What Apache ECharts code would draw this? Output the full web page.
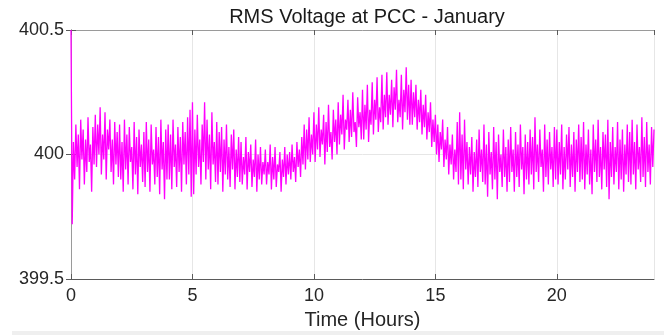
<!DOCTYPE html>
<html>
<head>
<meta charset="utf-8">
<script src="https://cdn.jsdelivr.net/npm/echarts@6/dist/echarts.min.js"></script>
<style>
html,body{margin:0;padding:0;background:#fff;}
#c{width:667px;height:335px;}
</style>
</head>
<body>
<div id="c"></div>
<script>
// Sampling step (hours) of the voltage record
var stepHours = 0.05;
// RMS voltage readings, one row per hour (20 samples each), plus final sample
var voltage = [
400.50,399.72,400.05,399.90,400.12,399.95,400.08,399.86,400.14,399.98,400.10,399.88,400.06,399.93,400.15,399.97,400.04,399.85,400.11,399.96,
400.16,399.95,400.12,400.00,400.19,399.92,400.08,399.98,400.17,399.90,400.10,400.02,400.14,399.93,400.06,399.88,400.13,399.96,400.09,399.91,
400.12,399.90,400.05,399.85,400.14,399.94,400.08,399.88,400.11,399.97,400.03,399.86,400.13,399.92,400.07,399.84,400.10,399.95,400.04,399.89,
400.09,399.87,400.13,399.93,400.06,399.85,400.12,399.96,400.02,399.88,400.11,399.91,400.07,399.84,400.14,399.94,400.05,399.82,400.10,399.90,
400.12,399.90,400.08,399.86,400.14,399.95,400.04,399.87,400.11,399.93,400.07,399.85,400.13,399.96,400.09,399.88,400.15,399.92,400.18,399.83,
400.21,399.84,400.10,399.92,400.16,399.95,400.06,399.88,400.12,399.97,400.21,399.90,400.14,399.94,400.08,399.86,400.17,399.96,400.05,399.89,
400.13,399.88,400.09,399.93,400.11,399.85,400.06,399.92,400.12,399.90,400.03,399.87,400.08,399.94,400.10,399.86,400.02,399.91,400.07,399.89,
400.05,399.88,399.99,399.92,400.07,399.86,400.01,399.93,400.04,399.87,399.98,399.91,400.06,399.85,400.00,399.90,400.03,399.88,399.97,399.92,
400.02,399.88,399.97,399.92,400.04,399.86,399.99,399.90,400.03,399.87,399.96,399.93,400.01,399.85,399.98,399.91,400.03,399.88,400.00,399.92,
400.01,399.90,400.04,399.93,399.99,399.89,400.05,399.95,400.02,399.91,400.07,399.96,400.12,399.94,400.10,399.98,400.15,399.97,400.08,400.00,
400.17,399.97,400.12,400.02,400.19,399.99,400.10,400.04,400.16,399.96,400.13,400.01,400.20,400.03,400.09,399.98,400.18,400.05,400.14,400.00,
400.21,400.04,400.16,400.08,400.24,400.02,400.14,400.10,400.22,400.05,400.18,400.07,400.25,400.09,400.13,400.03,400.23,400.11,400.17,400.06,
400.26,400.06,400.20,400.10,400.28,400.05,400.18,400.12,400.29,400.08,400.22,400.14,400.31,400.09,400.19,400.13,400.32,400.10,400.24,400.15,
400.33,400.12,400.24,400.16,400.30,400.11,400.27,400.18,400.34,400.13,400.22,400.15,400.32,400.10,400.26,400.17,400.35,400.14,400.28,400.12,
400.30,400.12,400.25,400.15,400.28,400.10,400.22,400.13,400.26,400.08,400.20,400.11,400.24,400.06,400.17,400.09,400.21,400.03,400.14,400.05,
400.16,400.00,400.12,399.97,400.09,400.02,400.14,399.95,400.06,399.98,400.11,399.92,400.04,399.96,400.08,399.90,400.02,399.93,400.13,399.88,
400.17,399.90,400.08,399.86,400.14,399.94,400.05,399.88,400.03,399.92,400.07,399.85,400.01,399.91,400.06,399.87,400.10,399.93,400.02,399.89,
400.12,399.88,400.04,399.83,400.09,399.92,400.01,399.86,400.11,399.90,400.05,399.82,400.08,399.93,400.00,399.87,400.10,399.91,400.03,399.85,
400.06,399.89,400.11,399.93,400.02,399.85,400.09,399.91,400.04,399.87,400.12,399.94,400.03,399.84,400.08,399.90,400.05,399.88,400.10,399.92,
400.07,399.86,400.15,399.93,400.04,399.89,400.10,399.95,400.02,399.85,400.12,399.91,400.06,399.88,400.09,399.94,400.03,399.87,400.11,399.90,
400.10,399.88,400.05,399.92,400.12,399.86,400.03,399.90,400.08,399.94,400.11,399.87,400.04,399.91,400.09,399.85,400.06,399.93,400.12,399.89,
400.07,399.90,400.13,399.86,400.04,399.92,400.10,399.88,400.02,399.84,400.12,399.93,400.06,399.89,400.14,399.91,400.03,399.86,400.09,399.94,
400.08,399.87,400.14,399.82,400.05,399.91,400.11,399.88,400.03,399.93,400.13,399.86,400.06,399.90,400.10,399.85,400.04,399.92,400.12,399.89,
400.09,399.88,400.14,399.92,400.05,399.86,400.12,399.94,400.03,399.89,400.15,399.91,400.07,399.87,400.13,399.93,400.04,399.88,400.11,399.95,
400.10
];
var xTicks = [0, 5, 10, 15, 20];
var yTicks = [399.5, 400, 400.5];
var titleText = 'RMS Voltage at PCC - January';
var xLabel = 'Time (Hours)';

var points = voltage.map(function (v, i) { return [i * stepHours, v]; });

var font = '"Liberation Sans", Arial, Helvetica, sans-serif';
var chart = echarts.init(document.getElementById('c'), null, {renderer: 'canvas'});
chart.setOption({
  animation: false,
  backgroundColor: '#ffffff',
  title: {
    text: titleText, left: 362, top: 2, textAlign: 'center',
    textStyle: {fontFamily: font, fontSize: 20, fontWeight: 'normal', color: '#1a1a1a'}
  },
  grid: {left: 71, right: 13, top: 30, bottom: 55, containLabel: false},
  graphic: [{
    type: 'rect', shape: {x: 12, y: 331, width: 652, height: 4},
    style: {fill: '#efefef'}, silent: true
  }],
  xAxis: [{
    type: 'value', min: 0, max: 24, interval: 5,
    name: xLabel, nameLocation: 'middle', nameGap: 31,
    nameTextStyle: {fontFamily: font, fontSize: 20, color: '#262626'},
    axisLine: {lineStyle: {color: '#5a5a5a', width: 1}},
    axisTick: {inside: true, length: 5, lineStyle: {color: '#5a5a5a'}},
    axisLabel: {fontFamily: font, fontSize: 18, color: '#262626', margin: 8,
      showMaxLabel: false,
      formatter: function (v) { return xTicks.indexOf(v) >= 0 ? String(v) : ''; }},
    splitLine: {show: true, lineStyle: {color: '#e6e6e6', width: 1}}
  }, {
    type: 'value', min: 0, max: 24, interval: 5, position: 'top',
    axisLine: {show: true, lineStyle: {color: '#9a9a9a', width: 1}},
    axisTick: {inside: true, length: 5, lineStyle: {color: '#5a5a5a'}},
    axisLabel: {show: false}, splitLine: {show: false}
  }],
  yAxis: [{
    type: 'value', min: 399.5, max: 400.5, interval: 0.5,
    axisLine: {show: true, lineStyle: {color: '#5a5a5a', width: 1}},
    axisTick: {inside: true, length: 5, lineStyle: {color: '#5a5a5a'}},
    axisLabel: {fontFamily: font, fontSize: 18, color: '#262626', margin: 7,
      padding: [7, 0, 0, 0],
      formatter: function (v) { return yTicks.indexOf(v) >= 0 ? String(v) : ''; }},
    splitLine: {show: true, lineStyle: {color: '#e6e6e6', width: 1}}
  }, {
    type: 'value', min: 399.5, max: 400.5, interval: 0.5, position: 'right',
    axisLine: {show: true, lineStyle: {color: '#9a9a9a', width: 1}},
    axisTick: {inside: true, length: 5, lineStyle: {color: '#5a5a5a'}},
    axisLabel: {show: false}, splitLine: {show: false}
  }],
  series: [{
    type: 'line', data: points, xAxisIndex: 0, yAxisIndex: 0,
    showSymbol: false, symbol: 'none', sampling: null, clip: true,
    lineStyle: {color: '#ff00ff', width: 1.3}
  }]
});
</script>
</body>
</html>
